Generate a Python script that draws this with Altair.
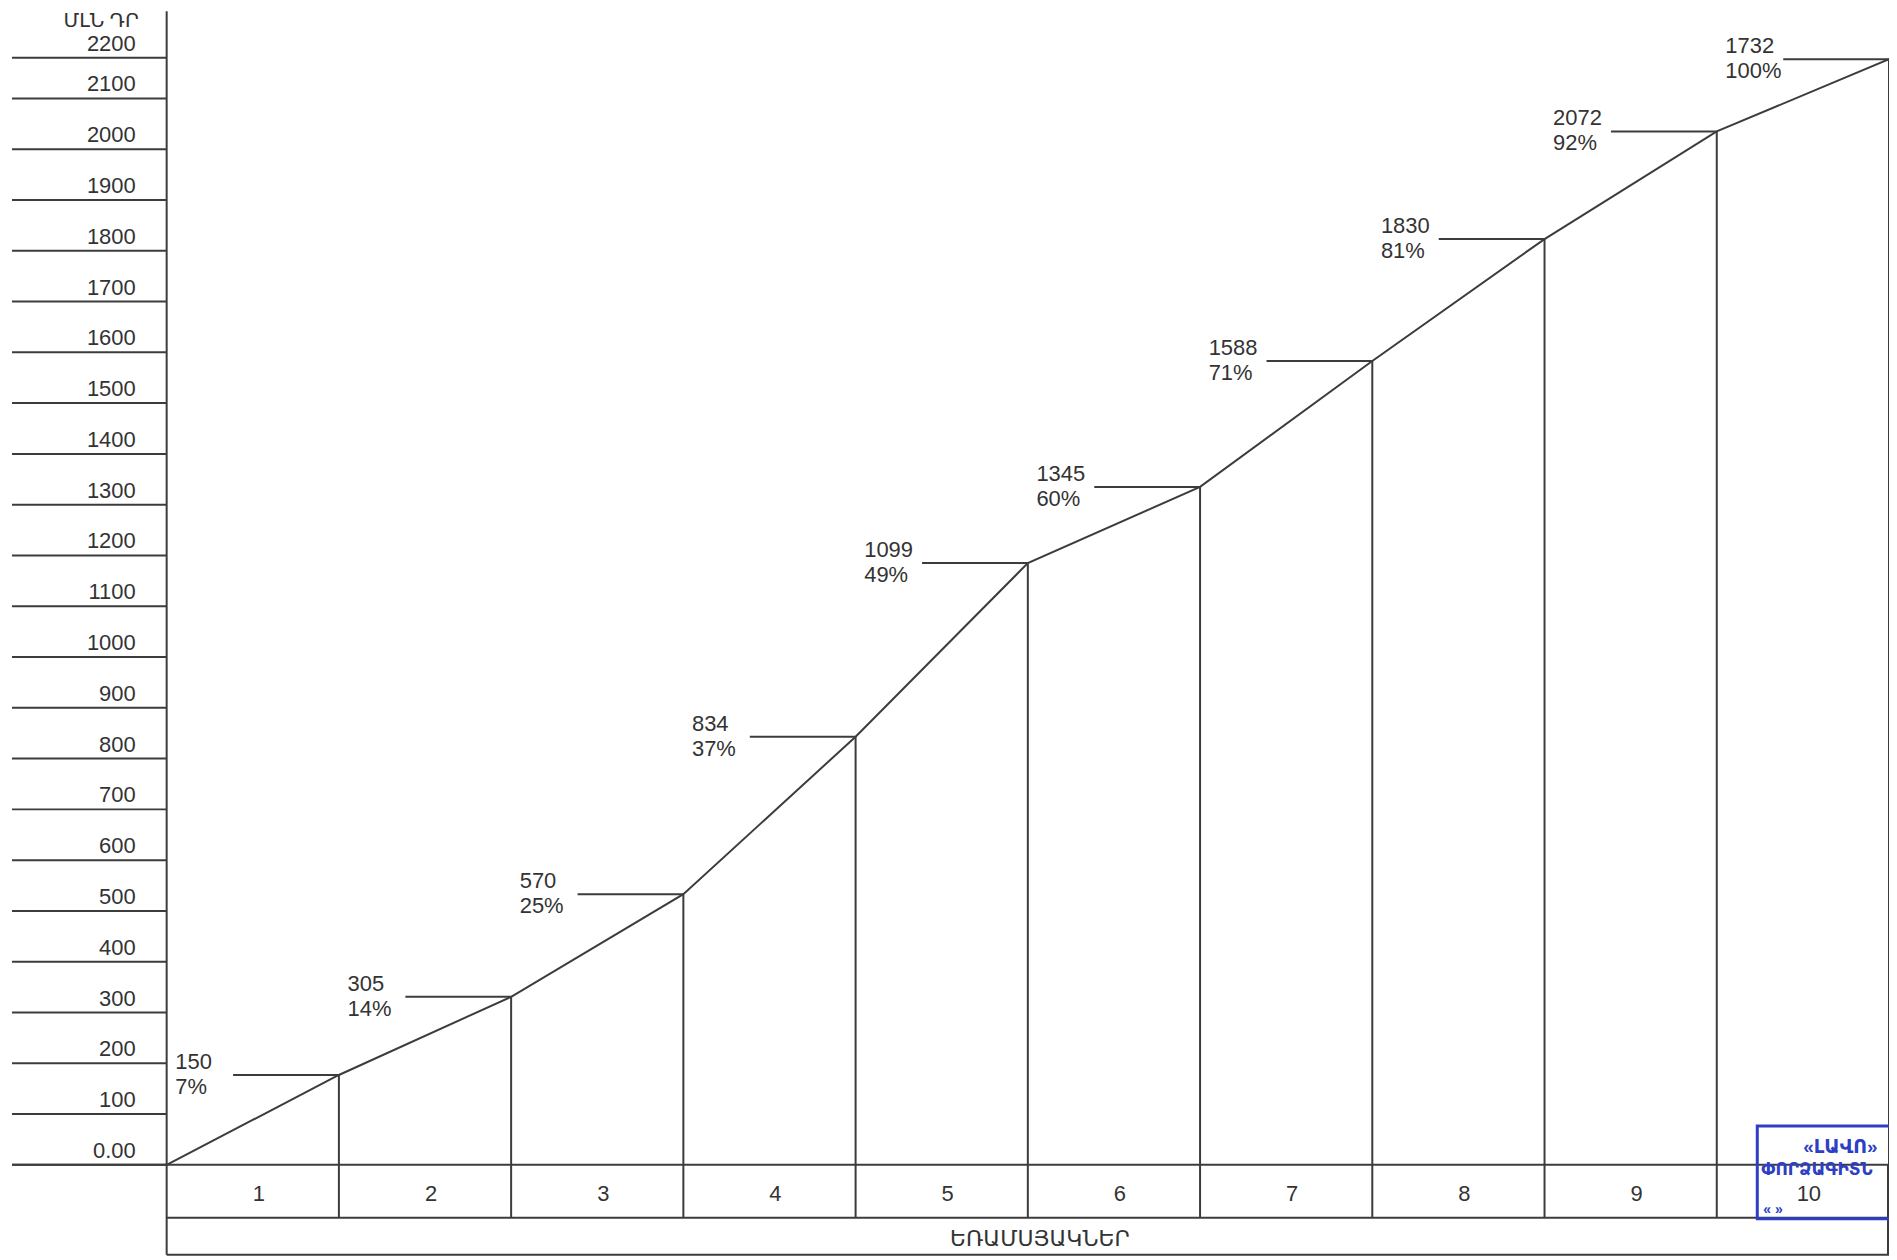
import altair as alt
import pandas as pd

# ---- data ----
quarters = [0, 1, 2, 3, 4, 5, 6, 7, 8, 9, 10]
plotted = [0, 177, 331, 533, 843, 1185, 1335, 1583, 1823, 2035, 2177]
value_labels = ["150", "305", "570", "834", "1099", "1345", "1588", "1830", "2072", "1732"]
share_labels = ["7%", "14%", "25%", "37%", "49%", "60%", "71%", "81%", "92%", "100%"]
# levels at which the scale's gridlines are drawn (the top one sits a bit low in the original)
y_tick_levels = [0, 100, 200, 300, 400, 500, 600, 700, 800, 900, 1000, 1100,
                 1200, 1300, 1400, 1500, 1600, 1700, 1800, 1900, 2000, 2100, 2180]
y_tick_labels = ["0.00", "100", "200", "300", "400", "500", "600", "700", "800", "900",
                 "1000", "1100", "1200", "1300", "1400", "1500", "1600", "1700", "1800",
                 "1900", "2000", "2100", "2200"]
quarter_names = ["1", "2", "3", "4", "5", "6", "7", "8", "9", "10"]
y_title = "ՄԼՆ ԴՐ"
x_title = "ԵՌԱՄՍՅԱԿՆԵՐ"
stamp_lines = ["«ԼԱՎՈ»", "ՓՈՐՁԱԳԻՏՆ", "«          »"]

TOP = 18
W, H = 1726, 1140
ROW1 = 1193
ROW2 = 1230
INK = "#3c3c3c"
TXT = "#333333"
FONT = "Liberation Sans, Arimo, DejaVu Sans, sans-serif"
BLUE = "#2f3fc4"

line_df = pd.DataFrame({"q": quarters, "v": plotted})
pts_df = pd.DataFrame({"q": quarters[1:], "v": plotted[1:],
                       "lab": value_labels, "pct": share_labels})
tick_df = pd.DataFrame({"t": y_tick_levels, "lab": y_tick_labels})
qlab_df = pd.DataFrame({"q": [i - 0.5 for i in quarters[1:]], "lab": quarter_names})
one = pd.DataFrame({"a": [0]})

xs = alt.Scale(domain=[0, 10], nice=False, zero=False)
ys = alt.Scale(domain=[0, 2240], nice=False, zero=False)
X = lambda f: alt.X(f, type="quantitative", scale=xs, axis=None)
Y = lambda f: alt.Y(f, type="quantitative", scale=ys, axis=None)

# y tick lines and labels (left "table")
tick_lines = alt.Chart(tick_df).mark_rule(color=INK, strokeWidth=2).encode(
    y=Y("t"), x=alt.value(-155), x2=alt.value(0))
zero_line = alt.Chart(one).mark_rule(color=INK, strokeWidth=2).encode(
    y=alt.value(H), x=alt.value(-155), x2=alt.value(W))
tick_text = alt.Chart(tick_df).mark_text(
    align="right", baseline="middle", dy=-14, fontSize=22, font=FONT, color=TXT
).encode(y=Y("t"), x=alt.value(-31), text="lab:N")
ytitle = alt.Chart(one).mark_text(
    align="right", baseline="middle", fontSize=20, font=FONT, color=TXT
).encode(x=alt.value(-28), y=alt.value(-6), text=alt.value(y_title))

# frame lines
axis_line = alt.Chart(one).mark_rule(color=INK, strokeWidth=2).encode(
    x=alt.value(0), y=alt.value(-16), y2=alt.value(ROW2))
row1_line = alt.Chart(one).mark_rule(color=INK, strokeWidth=2).encode(
    y=alt.value(ROW1), x=alt.value(0), x2=alt.value(W))
row2_line = alt.Chart(one).mark_rule(color=INK, strokeWidth=2).encode(
    y=alt.value(ROW2), x=alt.value(0), x2=alt.value(W))
right_line = alt.Chart(one).mark_rule(color=INK, strokeWidth=2).encode(
    x=alt.value(W - 1), y=alt.value(H), y2=alt.value(ROW2))

# drop lines from each point down through the quarter row
drops = alt.Chart(pts_df).mark_rule(color=INK, strokeWidth=2).encode(
    x=X("q"), y=Y("v"), y2=alt.value(ROW1))

# cumulative line
line = alt.Chart(line_df).mark_line(color=INK, strokeWidth=2).encode(
    x=X("q"), y=Y("v"))

# leader lines + labels
leaders = alt.Chart(pts_df).mark_rule(color=INK, strokeWidth=2, xOffset=-106).encode(
    x=X("q"), x2="q:Q", y=Y("v"))
lab_val = alt.Chart(pts_df).mark_text(
    align="left", baseline="middle", dx=-164, dy=-13, fontSize=22, font=FONT, color=TXT
).encode(x=X("q"), y=Y("v"), text="lab:N")
lab_pct = alt.Chart(pts_df).mark_text(
    align="left", baseline="middle", dx=-164, dy=12, fontSize=22, font=FONT, color=TXT
).encode(x=X("q"), y=Y("v"), text="pct:N")

# quarter numbers and x title
qtext = alt.Chart(qlab_df).mark_text(
    align="center", baseline="middle", dx=6, fontSize=22, font=FONT, color=TXT
).encode(x=X("q"), y=alt.value(1169), text="lab:N")
xtitle = alt.Chart(one).mark_text(
    align="center", baseline="middle", fontSize=22, font=FONT, color=TXT
).encode(x=alt.value(W / 2 + 12), y=alt.value(1214), text=alt.value(x_title))

# stamp in the bottom-right corner
stamp_box = alt.Chart(one).mark_rect(fillOpacity=0, stroke=BLUE, strokeWidth=3).encode(
    x=alt.value(1594), x2=alt.value(1760), y=alt.value(1101), y2=alt.value(1194))
stamp_t1 = alt.Chart(one).mark_text(
    align="left", baseline="middle", fontSize=19, font=FONT, color=BLUE, fontWeight="bold"
).encode(x=alt.value(1640), y=alt.value(1122), text=alt.value(stamp_lines[0]))
stamp_t2 = alt.Chart(one).mark_text(
    align="left", baseline="middle", fontSize=17, font=FONT, color=BLUE, fontWeight="bold"
).encode(x=alt.value(1598), y=alt.value(1145), text=alt.value(stamp_lines[1]))
stamp_t3 = alt.Chart(one).mark_text(
    align="left", baseline="middle", fontSize=14, font=FONT, color=BLUE, fontWeight="bold"
).encode(x=alt.value(1600), y=alt.value(1185), text=alt.value(stamp_lines[2]))

chart = alt.layer(
    tick_lines, zero_line, tick_text, ytitle,
    axis_line, row1_line, row2_line, right_line,
    drops, line, leaders, lab_val, lab_pct,
    qtext, xtitle,
    stamp_box, stamp_t1, stamp_t2, stamp_t3,
).properties(
    width=W, height=H,
    autosize=alt.AutoSizeParams(type="none"),
    padding={"left": 159, "top": TOP, "right": 0, "bottom": 92},
    background="white",
).configure_view(stroke=None)

chart.save("out.html", embed_options={"renderer": "svg", "actions": False})
